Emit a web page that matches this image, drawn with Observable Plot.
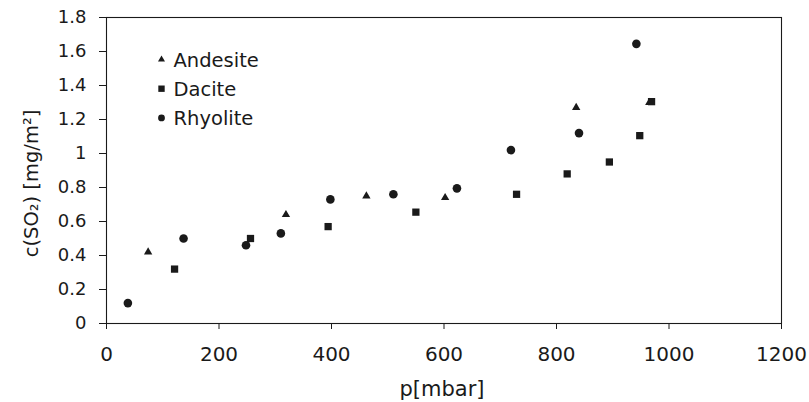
<!DOCTYPE html>
<html>
<head>
<meta charset="utf-8">
<script src="https://cdn.jsdelivr.net/npm/d3@7"></script>
<script src="https://cdn.jsdelivr.net/npm/@observablehq/plot@0.6"></script>
<style>
html, body { margin: 0; padding: 0; background: #fff; }
</style>
</head>
<body>
<div id="chart"></div>
<script>
// ---- data ----
const seriesNames = ["Andesite", "Dacite", "Rhyolite"];

const andesiteP = [74, 319, 462, 602, 835, 965];
const andesiteC = [0.42, 0.64, 0.75, 0.74, 1.27, 1.30];

const daciteP = [121, 256, 394, 550, 729, 819, 894, 948, 969];
const daciteC = [0.32, 0.50, 0.57, 0.655, 0.76, 0.88, 0.95, 1.105, 1.305];

const rhyoliteP = [38, 137, 248, 310, 398, 510, 623, 719, 840, 942];
const rhyoliteC = [0.12, 0.50, 0.46, 0.53, 0.73, 0.76, 0.795, 1.02, 1.12, 1.645];

const xTicks = [0, 200, 400, 600, 800, 1000, 1200];
const xTickLabels = ["0", "200", "400", "600", "800", "1000", "1200"];
const yTicks = [0, 0.2, 0.4, 0.6, 0.8, 1, 1.2, 1.4, 1.6, 1.8];
const yTickLabels = ["0", "0.2", "0.4", "0.6", "0.8", "1", "1.2", "1.4", "1.6", "1.8"];

const xLabel = "p[mbar]";
const yLabel = "c(SO\u2082) [mg/m\u00B2]";

// ---- styling ----
const ink = "#1a1a1a";
const symbols = ["triangle", "square", "circle"];
const markR = [3.1, 4.1, 4.3];
const legendR = [2.6, 3.6, 3.4];

const rows = (ps, cs) => ps.map((p, i) => ({p, c: cs[i]}));
const seriesRows = [rows(andesiteP, andesiteC), rows(daciteP, daciteC), rows(rhyoliteP, rhyoliteC)];

const dataMarks = seriesRows.map((data, i) =>
  Plot.dot(data, {x: "p", y: "c", symbol: () => symbols[i], r: markR[i], fill: ink, stroke: "none"})
);

const legendMarks = seriesNames.flatMap((name, i) => [
  Plot.dot([name], {frameAnchor: "top-left", dx: 55, dy: 42 + i * 29.2, symbol: () => symbols[i], r: legendR[i], fill: ink, stroke: "none"}),
  Plot.text([name], {frameAnchor: "top-left", dx: 67, dy: 43 + i * 29.2, text: d => d, textAnchor: "start", lineAnchor: "middle", fontSize: 19.5, fill: ink})
]);

const chart = Plot.plot({
  width: 809,
  height: 402,
  marginLeft: 106,
  marginRight: 28,
  marginTop: 17,
  marginBottom: 79,
  style: {fontFamily: "'DejaVu Sans', sans-serif", color: ink, background: "#fff", overflow: "visible"},
  x: {domain: [0, 1200]},
  y: {domain: [0, 1.8]},
  symbol: {type: "identity"},
  marks: [
    Plot.frame({stroke: ink, strokeWidth: 1.1}),
    Plot.axisX({ticks: xTicks, tickFormat: d => xTickLabels[xTicks.indexOf(d)], tickSize: 6, tickPadding: 17, fontSize: 20, label: null, stroke: ink}),
    Plot.axisY({ticks: yTicks, tickFormat: d => yTickLabels[yTicks.indexOf(d)], tickSize: 7, tickPadding: 13, fontSize: 18, label: null, stroke: ink}),
    ...dataMarks,
    ...legendMarks,
    Plot.text([yLabel], {frameAnchor: "left", dx: -75, dy: 13, rotate: -90, text: d => d, textAnchor: "middle", lineAnchor: "middle", fontSize: 19.5, fill: ink}),
    Plot.text([xLabel], {frameAnchor: "bottom", dx: -2, dy: 66, text: d => d, textAnchor: "middle", lineAnchor: "middle", fontSize: 21, fill: ink})
  ]
});

document.getElementById("chart").appendChild(chart);
</script>
</body>
</html>
